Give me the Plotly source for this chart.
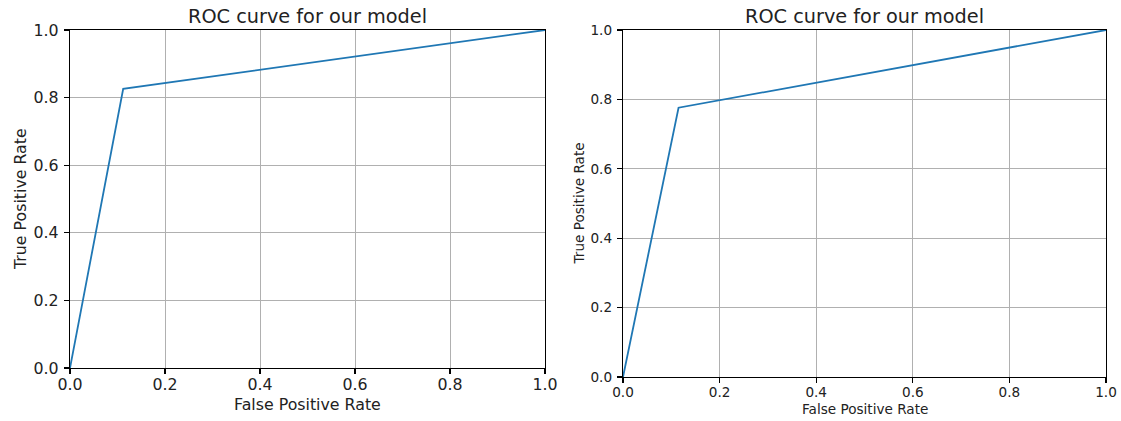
import plotly.graph_objects as go

W, H = 1121, 421

# Data
fpr_left = [0.0, 0.112, 1.0]
tpr_left = [0.0, 0.826, 1.0]
fpr_right = [0.0, 0.115, 1.0]
tpr_right = [0.0, 0.776, 1.0]
tick_vals = [0.0, 0.2, 0.4, 0.6, 0.8, 1.0]
tick_text = ["0.0", "0.2", "0.4", "0.6", "0.8", "1.0"]
title_text = "ROC curve for our model"
x_label = "False Positive Rate"
y_label = "True Positive Rate"

LINE = "#1f77b4"
FONT = "DejaVu Sans"
BIG = 15.8
SMALL = 13.6
TITLE = 19.3

# pixel boxes of the two plot areas (left, right, top, bottom)
boxes = [(70, 545, 30, 368), (623, 1106, 30, 377)]

def px_x(p):
    return p / W

def px_y(p):
    return 1 - p / H

fig = go.Figure()
fig.add_trace(go.Scatter(x=fpr_left, y=tpr_left, mode="lines",
                         line=dict(color=LINE, width=1.8), xaxis="x", yaxis="y",
                         showlegend=False, hoverinfo="skip"))
fig.add_trace(go.Scatter(x=fpr_right, y=tpr_right, mode="lines",
                         line=dict(color=LINE, width=1.8), xaxis="x2", yaxis="y2",
                         showlegend=False, hoverinfo="skip"))

def axis_style(domain, anchor, size):
    return dict(domain=domain, anchor=anchor, range=[0, 1], tickvals=tick_vals,
                ticktext=tick_text, showline=True, linecolor="black", linewidth=1.2,
                mirror=True, ticks="outside", ticklen=5, tickwidth=1.2, tickcolor="black",
                showgrid=True, gridcolor="#b0b0b0", gridwidth=1, zeroline=False,
                automargin=False,
                tickfont=dict(family=FONT, size=size, color="#222222"), fixedrange=True)

(l1, r1, t1, b1), (l2, r2, t2, b2) = boxes
layout = dict(
    width=W, height=H, margin=dict(l=0, r=0, t=0, b=0, autoexpand=False),
    paper_bgcolor="white", plot_bgcolor="white", showlegend=False,
    xaxis=axis_style([px_x(l1), px_x(r1)], "y", BIG),
    yaxis=axis_style([px_y(b1), px_y(t1)], "x", BIG),
    xaxis2=axis_style([px_x(l2), px_x(r2)], "y2", SMALL),
    yaxis2=axis_style([px_y(b2), px_y(t2)], "x2", SMALL),
)
layout["xaxis"]["ticklabelstandoff"] = -3
layout["xaxis2"]["ticklabelstandoff"] = -3
layout["yaxis"]["ticklabelstandoff"] = 2
layout["yaxis2"]["ticklabelstandoff"] = 2
fig.update_layout(**layout)

ann = []
# titles
for (l, r, t, b) in boxes:
    ann.append(dict(text=title_text, x=px_x((l + r) / 2), y=px_y(16), xref="paper", yref="paper",
                    showarrow=False, xanchor="center", yanchor="middle",
                    font=dict(family=FONT, size=TITLE, color="#222222")))
# x labels
ann.append(dict(text=x_label, x=px_x((l1 + r1) / 2), y=px_y(404), xref="paper", yref="paper",
                showarrow=False, xanchor="center", yanchor="middle",
                font=dict(family=FONT, size=BIG, color="#222222")))
ann.append(dict(text=x_label, x=px_x((l2 + r2) / 2), y=px_y(409), xref="paper", yref="paper",
                showarrow=False, xanchor="center", yanchor="middle",
                font=dict(family=FONT, size=SMALL, color="#222222")))
# y labels
ann.append(dict(text=y_label, x=px_x(20), y=px_y((t1 + b1) / 2), xref="paper", yref="paper",
                showarrow=False, xanchor="center", yanchor="middle", textangle=-90,
                font=dict(family=FONT, size=BIG, color="#222222")))
ann.append(dict(text=y_label, x=px_x(579), y=px_y((t2 + b2) / 2), xref="paper", yref="paper",
                showarrow=False, xanchor="center", yanchor="middle", textangle=-90,
                font=dict(family=FONT, size=SMALL, color="#222222")))
fig.update_layout(annotations=ann)

fig.write_html("out.html", config={"displayModeBar": False, "staticPlot": True},
               post_script="document.body.style.margin='0px';document.body.style.overflow='hidden';")
